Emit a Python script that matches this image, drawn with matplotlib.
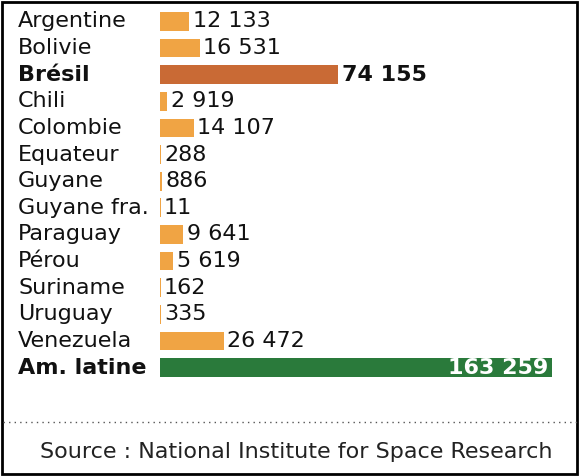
import matplotlib
matplotlib.use("Agg")
import matplotlib.pyplot as plt
from matplotlib.lines import Line2D
from matplotlib.patches import Rectangle

countries = ["Argentine","Bolivie","Brésil","Chili","Colombie","Equateur","Guyane",
             "Guyane fra.","Paraguay","Pérou","Suriname","Uruguay","Venezuela","Am. latine"]
values = [12133,16531,74155,2919,14107,288,886,11,9641,5619,162,335,26472,163259]

def fmt(v):
    return f"{v:,}".replace(",", " ")

W, H = 580, 476
fig = plt.figure(figsize=(W/100, H/100), dpi=100)
ax = fig.add_axes([160/W, 1-381/H, 400/W, 373/H])
ax.set_xlim(0, 163259*400/392)
ax.set_ylim(13.5, -0.5)
ax.axis("off")

fs = 16
for i, (c, v) in enumerate(zip(countries, values)):
    if c == "Brésil":
        col = "#C96A35"
    elif c == "Am. latine":
        col = "#2A7A3B"
    else:
        col = "#F0A444"
    ax.barh(i, max(v, 300), height=0.7, color=col, left=0)
    bold = c in ("Brésil", "Am. latine")
    ax.text(-142/400, i, c, transform=ax.get_yaxis_transform(), ha="left", va="center",
            fontsize=fs, fontweight="bold" if bold else "normal", color="#111111")
    if c == "Am. latine":
        ax.text(v - 1500, i, fmt(v), ha="right", va="center", fontsize=fs,
                fontweight="bold", color="white")
    else:
        ax.text(v + 1500, i, fmt(v), ha="left", va="center", fontsize=fs,
                fontweight="bold" if bold else "normal", color="#111111")

fig.add_artist(Line2D([3/W, 577/W], [1-422/H, 1-422/H], color="#555555",
                      linestyle=(0, (1, 3)), linewidth=1))
fig.text(40/W, 1-452/H, "Source : National Institute for Space Research",
         fontsize=fs, va="center", ha="left", color="#222222")
fig.add_artist(Rectangle((2/W, 2/H), 575/W, 472/H, fill=False, edgecolor="black",
                         linewidth=2, transform=fig.transFigure))
fig.savefig("out.png", dpi=100)
